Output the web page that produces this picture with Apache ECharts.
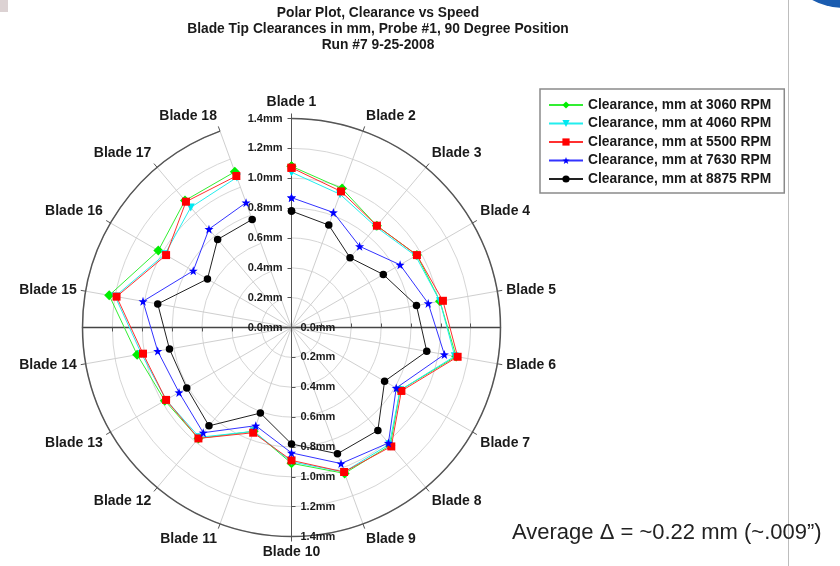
<!DOCTYPE html>
<html>
<head>
<meta charset="utf-8">
<script src="https://cdn.jsdelivr.net/npm/echarts@6/dist/echarts.min.js"></script>
<style>
html,body{margin:0;padding:0;background:#fff;}
#chart{width:840px;height:566px;}
</style>
</head>
<body>
<div id="chart"></div>
<script>
// ---- data ----
const titleLines = ['Polar Plot, Clearance vs Speed', 'Blade Tip Clearances in mm, Probe #1, 90 Degree Position', 'Run #7 9-25-2008'];
const blades = ['Blade 1','Blade 2','Blade 3','Blade 4','Blade 5','Blade 6','Blade 7','Blade 8','Blade 9',
                'Blade 10','Blade 11','Blade 12','Blade 13','Blade 14','Blade 15','Blade 16','Blade 17','Blade 18'];
const seriesNames = ['Clearance, mm at 3060 RPM','Clearance, mm at 4060 RPM','Clearance, mm at 5500 RPM','Clearance, mm at 7630 RPM','Clearance, mm at 8875 RPM'];
const rpm3060 = [1.08,0.99,0.89,0.97,1.01,1.12,0.84,1.03,1.04,0.91,0.74,0.97,0.98,1.05,1.24,1.03,1.11,1.11];
const rpm4060 = [1.04,0.95,0.88,0.96,1.01,1.11,0.84,1.02,1.03,0.90,0.74,0.96,0.97,1.02,1.20,0.98,1.05,1.07];
const rpm5500 = [1.07,0.97,0.89,0.97,1.03,1.13,0.85,1.04,1.03,0.89,0.75,0.97,0.97,1.01,1.19,0.97,1.10,1.08];
const rpm7630 = [0.87,0.82,0.71,0.84,0.93,1.04,0.81,1.01,0.97,0.84,0.70,0.92,0.87,0.91,1.01,0.76,0.86,0.89];
const rpm8875 = [0.78,0.73,0.61,0.71,0.85,0.92,0.72,0.90,0.90,0.78,0.61,0.86,0.81,0.83,0.91,0.65,0.77,0.77];
const radiusMax = 1.4;
const radiusStep = 0.2;
const noteText = 'Average \u0394 = ~0.22 mm (~.009\u201d)';

// ---- styling ----
const FONT = '"Liberation Sans", Arial, sans-serif';
const CX = 291.5, CY = 327.5, R = 209;
const STAR = 'path://M0,-10 L2.35,-3.24 L9.51,-3.09 L3.8,1.24 L5.88,8.09 L0,4 L-5.88,8.09 L-3.8,1.24 L-9.51,-3.09 L-2.35,-3.24 Z';
const styles = [
  {color:'#00ee00', line:'#33ee33', symbol:'diamond', size:10},
  {color:'#00e8f0', line:'#22eeee', symbol:'triangle', size:8, rotate:180},
  {color:'#ff0000', line:'#ff3030', symbol:'rect', size:8},
  {color:'#0000ff', line:'#3333ff', symbol:STAR, size:9},
  {color:'#000000', line:'#222222', symbol:'circle', size:7.5}
];
const allValues = [rpm3060, rpm4060, rpm5500, rpm7630, rpm8875];

function closeLoop(vals){
  const d = vals.map((v,i)=>[v,i]);
  d.push([vals[0],0]);
  return d;
}
const mmFmt = v => Number(v).toFixed(1) + 'mm';

const polars = [0,1,2,3].map(()=>({center:[CX,CY], radius:R}));
const hiddenAngle = (idx, start) => ({
  polarIndex: idx, type:'value', min:0, max:360, startAngle:start,
  axisLine:{show:false}, axisTick:{show:false}, axisLabel:{show:false}, splitLine:{show:false}
});
const axisLabelStyle = {color:'#1a1a1a', fontFamily:FONT, fontWeight:'bold', fontSize:11};

const option = {
  animation:false,
  backgroundColor:'#ffffff',
  title:{
    text: titleLines.join('\n'),
    left: 378, top: 5, textAlign:'center', padding:0,
    textStyle:{fontFamily:FONT, fontWeight:'bold', fontSize:13.8, lineHeight:16, color:'#1a1a1a'}
  },
  legend:{
    orient:'vertical', left:540, top:89,
    padding:[9,13,7,8], itemGap:4.5, itemWidth:34, itemHeight:9,
    borderColor:'#8a8a8a', borderWidth:1.5,
    textStyle:{fontFamily:FONT, fontWeight:'bold', fontSize:13.8, color:'#1a1a1a', lineHeight:14},
    data: seriesNames
  },
  polar: polars,
  angleAxis:[
    {
      polarIndex:0, type:'category', data:blades, startAngle:90, clockwise:true, boundaryGap:false,
      axisLine:{lineStyle:{color:'#555', width:1.5}},
      axisTick:{show:true, length:5, lineStyle:{color:'#555'}},
      axisLabel:{margin:9, color:'#1a1a1a', fontFamily:FONT, fontWeight:'bold', fontSize:14},
      splitLine:{show:true, lineStyle:{color:'#cfcfcf', width:1}}
    },
    hiddenAngle(1, 270),
    hiddenAngle(2, 0),
    hiddenAngle(3, 180)
  ],
  radiusAxis:[
    {
      polarIndex:0, type:'value', min:0, max:radiusMax, interval:radiusStep,
      axisLine:{show:true, lineStyle:{color:'#555', width:1}},
      axisTick:{show:true, length:4, lineStyle:{color:'#555'}},
      axisLabel:Object.assign({formatter:mmFmt, margin:9}, axisLabelStyle),
      splitLine:{show:true, lineStyle:{color:'#d6d6d6', width:1}}
    },
    {
      polarIndex:1, type:'value', min:0, max:radiusMax, interval:radiusStep,
      axisLine:{show:true, lineStyle:{color:'#555', width:1}},
      axisTick:{show:true, length:4, lineStyle:{color:'#555'}},
      axisLabel:Object.assign({formatter:mmFmt, margin:9}, axisLabelStyle),
      splitLine:{show:false}
    },
    {
      polarIndex:2, type:'value', min:0, max:radiusMax, interval:radiusStep,
      axisLine:{show:true, lineStyle:{color:'#444', width:1.3}},
      axisTick:{show:true, inside:true, length:4, lineStyle:{color:'#555'}},
      axisLabel:{show:false}, splitLine:{show:false}
    },
    {
      polarIndex:3, type:'value', min:0, max:radiusMax, interval:radiusStep,
      axisLine:{show:true, lineStyle:{color:'#444', width:1.3}},
      axisTick:{show:true, length:4, lineStyle:{color:'#555'}},
      axisLabel:{show:false}, splitLine:{show:false}
    }
  ],
  series: allValues.map((vals,k)=>({
    type:'line', coordinateSystem:'polar', polarIndex:0,
    name: seriesNames[k],
    data: closeLoop(vals),
    symbol: styles[k].symbol,
    symbolSize: styles[k].size,
    symbolRotate: styles[k].rotate || 0,
    showAllSymbol:true,
    itemStyle:{color:styles[k].color},
    lineStyle:{color:styles[k].line, width:1},
    z: 3 + k
  })),
  graphic:[
    {type:'rect', left:0, top:0, shape:{width:8, height:12}, style:{fill:'#dcd2d3'}, silent:true},
    {type:'line', shape:{x1:788.5, y1:0, x2:788.5, y2:566}, style:{stroke:'#bdbdbd', lineWidth:1}, silent:true},
    {type:'ellipse', shape:{cx:845, cy:-45, rx:62, ry:53}, style:{fill:'#1a5cb0'}, silent:true},
    {type:'text', left:512, top:522, style:{text:noteText, fontFamily:FONT, fontSize:22, fill:'#222'}, silent:true}
  ]
};

const chart = echarts.init(document.getElementById('chart'), null, {renderer:'canvas'});
chart.setOption(option);
</script>
</body>
</html>
